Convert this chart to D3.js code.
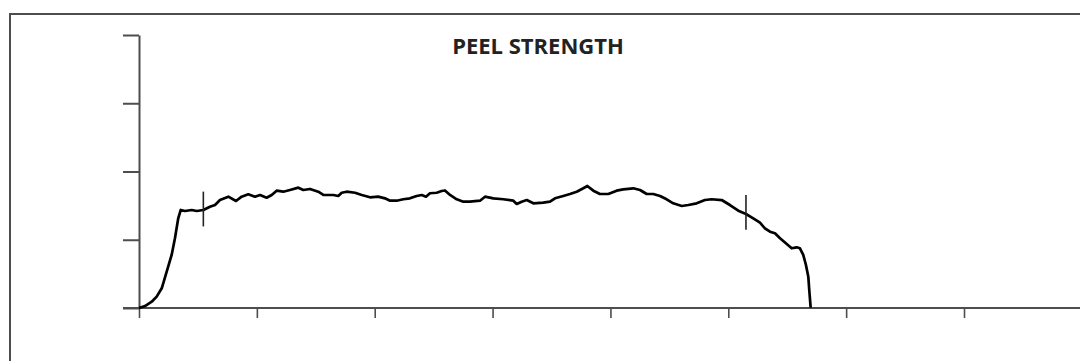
<!DOCTYPE html>
<html>
<head>
<meta charset="utf-8">
<script src="https://cdn.jsdelivr.net/npm/d3@7"></script>
<style>
  html, body { margin: 0; padding: 0; background: #fff; }
  svg { display: block; }
</style>
</head>
<body>
<svg id="chart" width="1080" height="361"></svg>
<script>
// ---- data ----
const chartTitle = "PEEL STRENGTH";
const xTicks = [0, 10, 20, 30, 40, 50, 60, 70];
const yTicks = [0, 10, 20, 30, 40];
const peelX = [0.0, 0.51, 1.08, 1.50, 1.93, 2.35, 2.77, 3.05, 3.33, 3.54, 3.90, 4.47, 4.90, 5.46, 6.02, 6.45, 6.87, 7.58, 8.23, 8.71,
  9.27, 9.84, 10.27, 10.83, 11.26, 11.68, 12.24, 12.81, 13.52, 13.94, 14.51, 15.21, 15.64, 16.49, 16.91, 17.20, 17.62, 18.33, 18.90, 19.60,
  20.30, 20.87, 21.30, 21.86, 22.43, 22.99, 23.56, 23.99, 24.35, 24.69, 25.26, 25.68, 25.96, 26.39, 26.96, 27.52, 28.08, 28.93, 29.36, 30.06,
  30.91, 31.76, 32.05, 32.47, 32.90, 33.46, 34.30, 34.87, 35.30, 36.00, 36.57, 37.14, 37.70, 38.04, 38.55, 39.11, 39.82, 40.53, 41.09, 41.94,
  42.51, 43.08, 43.64, 44.21, 44.77, 45.33, 46.05, 46.61, 47.32, 48.02, 48.59, 49.44, 50.14, 50.85, 51.50, 52.12, 52.69, 53.11, 53.54, 53.96,
  54.39, 54.96, 55.38, 55.80, 56.08, 56.36, 56.59, 56.79, 56.87, 56.99];
const peelY = [0.0, 0.29, 0.92, 1.66, 2.89, 5.32, 7.77, 10.21, 13.14, 14.36, 14.21, 14.36, 14.21, 14.36, 14.84, 15.09, 15.82, 16.31, 15.68, 16.31,
  16.66, 16.31, 16.56, 16.16, 16.56, 17.19, 17.04, 17.29, 17.63, 17.29, 17.44, 17.04, 16.56, 16.56, 16.41, 16.89, 17.04, 16.89, 16.56, 16.22,
  16.31, 16.07, 15.72, 15.72, 15.93, 16.07, 16.41, 16.56, 16.31, 16.81, 16.89, 17.14, 17.22, 16.56, 15.93, 15.58, 15.58, 15.72, 16.31, 16.07,
  15.93, 15.72, 15.24, 15.58, 15.82, 15.34, 15.43, 15.58, 16.07, 16.41, 16.70, 17.04, 17.54, 17.88, 17.19, 16.70, 16.70, 17.19, 17.39, 17.54,
  17.29, 16.70, 16.70, 16.41, 15.93, 15.34, 14.95, 15.09, 15.34, 15.82, 15.93, 15.82, 15.09, 14.26, 13.77, 13.14, 12.50, 11.68, 11.18, 10.95,
  10.21, 9.38, 8.75, 8.89, 8.75, 7.77, 6.30, 4.59, 2.64, 0.07];
// range markers (start / end of averaging window)
const markerX = [5.46, 51.50];
const markerY = [14.5, 14.0];
const markerHalf = 2.55;

// ---- layout ----
const svg = d3.select("#chart");
const axisColor = "#4d4d4d";
const x = d3.scaleLinear().domain([0, 70]).range([139, 964]);
const y = d3.scaleLinear().domain([0, 40]).range([308, 35]);

// frame
svg.append("rect")
  .attr("x", 10).attr("y", 14)
  .attr("width", 1100).attr("height", 400)
  .attr("fill", "none").attr("stroke", axisColor).attr("stroke-width", 2);

// x axis (extends to right edge)
const xAxis = svg.append("g")
  .attr("transform", `translate(0,${y(0)})`)
  .call(d3.axisBottom(x).tickValues(xTicks).tickSize(10).tickSizeOuter(0).tickFormat(""));
xAxis.select(".domain").remove();
xAxis.append("line")
  .attr("x1", 123).attr("x2", 1082).attr("y1", 0).attr("y2", 0)
  .attr("stroke", axisColor).attr("stroke-width", 2);
xAxis.selectAll(".tick line").attr("stroke", axisColor).attr("stroke-width", 1.6);

// y axis
const yAxis = svg.append("g")
  .attr("transform", `translate(${x(0)},0)`)
  .call(d3.axisLeft(y).tickValues(yTicks).tickSize(16).tickSizeOuter(0).tickFormat(""));
yAxis.select(".domain").attr("stroke", axisColor).attr("stroke-width", 2);
yAxis.selectAll(".tick line").attr("stroke", axisColor).attr("stroke-width", 2);

// title
svg.append("text")
  .attr("x", 538).attr("y", 53.5)
  .attr("text-anchor", "middle")
  .attr("font-family", "'Open Sans', 'Noto Sans', sans-serif")
  .attr("font-weight", 700)
  .attr("font-size", 22)
  .attr("fill", "#222")
  .text(chartTitle);

// curve
const pts = peelX.map((v, i) => [v, peelY[i]]);
const line = d3.line().x(d => x(d[0])).y(d => y(d[1]));
svg.append("path")
  .datum(pts)
  .attr("d", line)
  .attr("fill", "none")
  .attr("stroke", "#000")
  .attr("stroke-width", 2.7)
  .attr("stroke-linejoin", "round");

// markers
svg.selectAll("line.marker")
  .data(markerX.map((v, i) => [v, markerY[i]]))
  .enter().append("line")
  .attr("class", "marker")
  .attr("x1", d => x(d[0])).attr("x2", d => x(d[0]))
  .attr("y1", d => y(d[1] + markerHalf)).attr("y2", d => y(d[1] - markerHalf))
  .attr("stroke", "#222").attr("stroke-width", 1.6);
</script>
</body>
</html>
